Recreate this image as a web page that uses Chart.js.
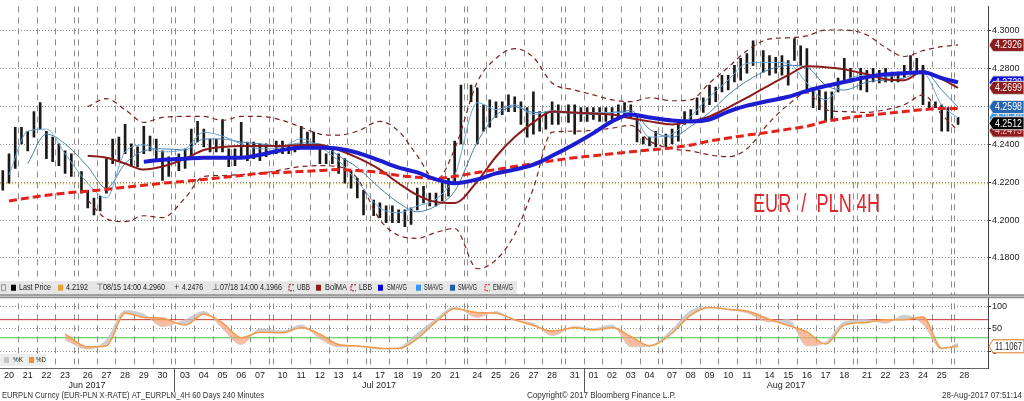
<!DOCTYPE html>
<html>
<head>
<meta charset="utf-8">
<script src="https://cdn.jsdelivr.net/npm/chart.js@4/dist/chart.umd.min.js"></script>
<style>
  html, body { margin: 0; padding: 0; background: #fff; }
  #wrap { width: 1024px; height: 401px; }
</style>
</head>
<body>
<div id="wrap"><canvas id="chart" width="1024" height="401"></canvas></div>
<script>
// trading days on the axis
const dates = [
  '2017-06-20','2017-06-21','2017-06-22','2017-06-23','2017-06-26','2017-06-27','2017-06-28','2017-06-29','2017-06-30',
  '2017-07-03','2017-07-04','2017-07-05','2017-07-06','2017-07-07','2017-07-10','2017-07-11','2017-07-12','2017-07-13',
  '2017-07-14','2017-07-17','2017-07-18','2017-07-19','2017-07-20','2017-07-21','2017-07-24','2017-07-25','2017-07-26',
  '2017-07-27','2017-07-28','2017-07-31','2017-08-01','2017-08-02','2017-08-03','2017-08-04','2017-08-07','2017-08-08',
  '2017-08-09','2017-08-10','2017-08-11','2017-08-14','2017-08-15','2017-08-16','2017-08-17','2017-08-18','2017-08-21',
  '2017-08-22','2017-08-23','2017-08-24','2017-08-25','2017-08-28'
]
const monthNames = ['Jan','Feb','Mar','Apr','May','Jun','Jul','Aug','Sep','Oct','Nov','Dec']

// price bars, three per day (last day only one)
const barHigh = [
  4.2262,4.2351,4.2491, 4.2491,4.2470,4.2574, 4.2621,4.2470,4.2439, 4.2403,4.2366,4.2351,
  4.2257,4.2158,4.2117, 4.2127,4.2325,4.2429, 4.2439,4.2506,4.2403, 4.2387,4.2496,4.2444,
  4.2429,4.2366,4.2335, 4.2351,4.2377,4.2481, 4.2522,4.2481,4.2429, 4.2429,4.2532,4.2377,
  4.2377,4.2517,4.2413, 4.2413,4.2403,4.2403, 4.2418,4.2418,4.2392, 4.2392,4.2496,4.2465,
  4.2465,4.2387,4.2351, 4.2387,4.2351,4.2325, 4.2262,4.2221,4.2158, 4.2106,4.2091,4.2075,
  4.2075,4.2054,4.2054, 4.2065,4.2169,4.2179, 4.2143,4.2143,4.2195, 4.2221,4.2418,4.2714,
  4.2714,4.2699,4.2610, 4.2636,4.2626,4.2626, 4.2662,4.2652,4.2626, 4.2595,4.2678,4.2574,
  4.2574,4.2626,4.2610, 4.2610,4.2610,4.2595, 4.2595,4.2595,4.2595, 4.2595,4.2595,4.2610,
  4.2621,4.2610,4.2543, 4.2439,4.2439,4.2470, 4.2455,4.2481,4.2522, 4.2574,4.2584,4.2647,
  4.2647,4.2714,4.2704, 4.2766,4.2766,4.2818, 4.2855,4.2881,4.2948, 4.2896,4.2870,4.2860,
  4.2870,4.2844,4.2960, 4.2922,4.2907,4.2699, 4.2688,4.2678,4.2678, 4.2751,4.2855,4.2803,
  4.2803,4.2792,4.2803, 4.2792,4.2803,4.2782, 4.2782,4.2818,4.2870, 4.2855,4.2818,4.2626,
  4.2626,4.2610,4.2595, 4.2543
]
const barLow = [
  4.2158,4.2195,4.2273, 4.2403,4.2366,4.2439, 4.2481,4.2325,4.2309, 4.2288,4.2247,4.2231,
  4.2143,4.2065,4.2028, 4.2049,4.2143,4.2299, 4.2309,4.2351,4.2283, 4.2283,4.2351,4.2366,
  4.2325,4.2210,4.2231, 4.2262,4.2273,4.2325, 4.2413,4.2387,4.2361, 4.2361,4.2361,4.2283,
  4.2288,4.2335,4.2314, 4.2325,4.2314,4.2335, 4.2351,4.2351,4.2351, 4.2361,4.2387,4.2387,
  4.2387,4.2299,4.2299, 4.2299,4.2247,4.2195, 4.2169,4.2117,4.2028, 4.2023,4.2013,4.1987,
  4.1987,4.1987,4.1966, 4.1977,4.2054,4.2091, 4.2075,4.2075,4.2101, 4.2127,4.2195,4.2403,
  4.2626,4.2403,4.2470, 4.2491,4.2543,4.2558, 4.2574,4.2574,4.2506, 4.2439,4.2455,4.2470,
  4.2481,4.2506,4.2506, 4.2517,4.2455,4.2522, 4.2522,4.2532,4.2522, 4.2522,4.2532,4.2543,
  4.2548,4.2543,4.2413, 4.2403,4.2392,4.2387, 4.2387,4.2403,4.2418, 4.2506,4.2517,4.2558,
  4.2569,4.2610,4.2626, 4.2678,4.2688,4.2730, 4.2740,4.2777,4.2818, 4.2782,4.2766,4.2777,
  4.2766,4.2714,4.2844, 4.2818,4.2678,4.2595, 4.2584,4.2522,4.2532, 4.2678,4.2740,4.2730,
  4.2688,4.2678,4.2730, 4.2725,4.2730,4.2730, 4.2730,4.2756,4.2792, 4.2782,4.2610,4.2595,
  4.2595,4.2470,4.2470, 4.2506
]
const lastClose = 4.2512
const refLevel = 4.2192

// indicator lines, one value per day
const emaLine = [
  4.2101,4.2117,4.2132,4.2143,4.2153,4.2163,4.2174,4.2184,4.2195,4.2205,
  4.2215,4.2226,4.2236,4.2247,4.2252,4.2257,4.2262,4.2267,4.2262,4.2252,
  4.2236,4.2226,4.2221,4.2231,4.2252,4.2267,4.2283,4.2299,4.2314,4.2330,
  4.2340,4.2351,4.2361,4.2371,4.2382,4.2397,4.2418,4.2434,4.2449,4.2465,
  4.2481,4.2496,4.2522,4.2538,4.2553,4.2564,4.2574,4.2584,4.2590,4.2590
]
const smaLong = [
  null,null,null,null,null,null,null,4.2309,4.2319,4.2325,
  4.2330,4.2330,4.2330,4.2345,4.2371,4.2382,4.2382,4.2377,4.2356,4.2314,
  4.2278,4.2252,4.2215,4.2195,4.2215,4.2247,4.2267,4.2293,4.2340,4.2403,
  4.2460,4.2522,4.2558,4.2543,4.2527,4.2522,4.2532,4.2574,4.2605,4.2631,
  4.2652,4.2683,4.2709,4.2730,4.2756,4.2771,4.2777,4.2782,4.2751,4.2728
]
const bolMA = [
  null,null,null,null,4.2340,4.2330,4.2299,4.2267,4.2283,4.2325,
  4.2371,4.2387,4.2392,4.2392,4.2392,4.2397,4.2397,4.2371,4.2330,4.2267,
  4.2195,4.2132,4.2096,4.2091,4.2205,4.2335,4.2439,4.2517,4.2574,4.2569,
  4.2564,4.2558,4.2538,4.2522,4.2506,4.2522,4.2548,4.2595,4.2647,4.2714,
  4.2766,4.2813,4.2808,4.2797,4.2771,4.2745,4.2740,4.2787,4.2745,4.2699
]
const upperBand = [
  null,null,null,null,4.2600,4.2642,4.2584,4.2517,4.2543,4.2548,
  4.2548,4.2527,4.2548,4.2548,4.2527,4.2491,4.2455,4.2449,4.2470,4.2522,
  4.2470,4.2340,4.2210,4.2377,4.2730,4.2855,4.2907,4.2860,4.2725,4.2688,
  4.2662,4.2636,4.2626,4.2647,4.2631,4.2636,4.2725,4.2808,4.2896,4.2958,
  4.2964,4.2974,4.3005,4.3005,4.2979,4.2912,4.2865,4.2896,4.2917,4.2926
]
const lowerBand = [
  null,null,null,null,4.2106,4.2007,4.1992,4.2023,4.2013,4.2117,
  4.2231,4.2236,4.2241,4.2247,4.2267,4.2283,4.2288,4.2283,4.2221,4.2002,
  4.1919,4.1904,4.1935,4.1956,4.1743,4.1790,4.1925,4.2169,4.2465,4.2470,
  4.2475,4.2486,4.2501,4.2418,4.2377,4.2366,4.2345,4.2335,4.2377,4.2517,
  4.2610,4.2673,4.2584,4.2574,4.2569,4.2584,4.2610,4.2662,4.2558,4.2473
]
const smaFast = [
  4.2240,4.2470,4.2481,4.2351,4.2195,4.2117,4.2361,4.2397,4.2361,4.2377,
  4.2465,4.2444,4.2403,4.2377,4.2387,4.2429,4.2387,4.2314,4.2205,4.2065,
  4.2039,4.2075,4.2111,4.2236,4.2621,4.2584,4.2610,4.2558,4.2579,4.2569,
  4.2569,4.2569,4.2569,4.2439,4.2455,4.2548,4.2652,4.2740,4.2829,4.2834,
  4.2829,4.2725,4.2636,4.2735,4.2766,4.2756,4.2777,4.2777,4.2610,4.2540
]
const smaSlow = [
  null,4.2299,4.2455,4.2403,4.2283,4.2169,4.2299,4.2366,4.2377,4.2371,
  4.2429,4.2429,4.2413,4.2403,4.2392,4.2408,4.2403,4.2340,4.2278,4.2169,
  4.2091,4.2044,4.2075,4.2153,4.2413,4.2553,4.2600,4.2569,4.2569,4.2564,
  4.2558,4.2569,4.2579,4.2481,4.2439,4.2496,4.2569,4.2662,4.2735,4.2797,
  4.2818,4.2808,4.2714,4.2688,4.2730,4.2740,4.2751,4.2792,4.2688,4.2598
]

// stochastic panel
const stochK = [
  null,null,null,25,5,25,90,82,55,70,
  88,50,15,50,45,58,28,10,12,5,
  8,40,72,98,75,88,68,62,35,55,
  50,58,10,12,48,90,98,92,85,65,
  70,12,20,65,70,62,80,60,5,18
]
const stochD = [
  null,null,null,38,10,12,84,75,73,58,
  82,63,30,42,41,52,38,15,12,7,
  6,28,65,94,86,84,70,57,45,52,
  47,52,33,12,40,80,97,93,89,71,
  57,43,16,58,64,70,70,76,7,11.1067
]
const stochHigh = 70
const stochLow = 30

const priceTicks = [4.18, 4.20, 4.22, 4.24, 4.26, 4.28, 4.30]
const stochTicks = [0, 50, 100]

// ---- time axis: 6 units per day, small gap over weekends
const GAP = 1.25
const X_MIN = 0.11, X_MAX = 317.11
const dayStart = []
let acc = 0
dates.forEach((d, i) => {
  if (i > 0) {
    const diff = (Date.parse(d) - Date.parse(dates[i - 1])) / 864e5
    acc += 6 + (diff > 1 ? GAP : 0)
  }
  dayStart.push(acc)
})
const dayLabels = dates.map(d => d.slice(8))
const dayCenters = dayStart.map(s => s + 3)
const barX = k => dayStart[Math.floor(k / 3)] + 1 + 2 * (k % 3)
const lastBarX = barX(barHigh.length - 1)
const lineX = i => (i === dates.length - 1 ? lastBarX : dayStart[i] + 3)

const gridTicks = []
dayStart.forEach((s, i) => {
  gridTicks.push(s)
  if (i < dates.length - 1 && dayStart[i + 1] - s > 6) gridTicks.push(s + 6)
})

const monthBounds = []
const monthLabels = [monthNames[+dates[0].slice(5, 7) - 1] + ' ' + dates[0].slice(0, 4)]
dates.forEach((d, i) => {
  if (i > 0 && d.slice(5, 7) !== dates[i - 1].slice(5, 7)) {
    monthBounds.push((dayStart[i - 1] + 6 + dayStart[i]) / 2)
    monthLabels.push(monthNames[+d.slice(5, 7) - 1] + ' ' + d.slice(0, 4))
  }
})
const edges = [X_MIN, ...monthBounds, X_MAX]
const monthCenters = monthLabels.map((m, i) => (edges[i] + edges[i + 1]) / 2)

const toPoints = arr => arr.map((v, i) => (v === null ? null : {x: lineX(i), y: v})).filter(p => p)
const bars = barHigh.map((h, k) => ({x: barX(k), y: [barLow[k], h]}))
const flat = v => [{x: X_MIN, y: v}, {x: X_MAX, y: v}]

const FONT = '"Liberation Sans", Arial, sans-serif'

function lineSet(data, color, width, dash, yAxis) {
  return {
    type: 'line', data, borderColor: color, borderWidth: width, borderDash: dash || [],
    pointRadius: 0, fill: false, cubicInterpolationMode: 'monotone',
    xAxisID: 'x', yAxisID: yAxis || 'y'
  }
}

function drawTag(ctx, y, text, bg, fg, border) {
  const x = 989, h = 13, w = 1024 - x
  ctx.beginPath()
  ctx.moveTo(x, y)
  ctx.lineTo(x + 4, y - h / 2)
  ctx.lineTo(x + w, y - h / 2)
  ctx.lineTo(x + w, y + h / 2)
  ctx.lineTo(x + 4, y + h / 2)
  ctx.closePath()
  ctx.fillStyle = bg
  ctx.fill()
  ctx.strokeStyle = border
  ctx.lineWidth = 1
  ctx.stroke()
  ctx.fillStyle = fg
  ctx.font = '10px ' + FONT
  ctx.textBaseline = 'middle'
  ctx.textAlign = 'left'
  ctx.fillText(text, x + 6, y + 0.5, w - 8)
}

const decor = {
  id: 'decor',
  afterDraw(chart) {
    const {ctx, scales} = chart
    const py = scales.y, sy = scales.ys
    ctx.save()

    // legend strip of the price panel
    const ly = py.bottom - 17
    ctx.fillStyle = '#e6e6e6'
    ctx.fillRect(0, ly, 517, 13)
    ctx.font = '9px ' + FONT
    ctx.textBaseline = 'middle'
    ctx.textAlign = 'left'
    const my = ly + 6.5
    ctx.strokeStyle = '#999'
    ctx.lineWidth = 1
    ctx.strokeRect(1.5, my - 3, 4, 6)
    const items = [
      ['box', '#000', 11, 'Last Price', 19, 32],
      ['box', '#f0a030', 58, refLevel.toFixed(4), 66, 22],
      ['txt', '\u22A4', 96, '08/15 14:00 4.2960', 103, 62],
      ['txt', '+', 174, '4.2476', 182, 21],
      ['txt', '\u22A5', 212, '07/18 14:00 4.1966', 220, 62],
      ['dash', '#8b1c1c', 289, 'UBB', 297, 13],
      ['box', '#8b1c1c', 316, 'BolMA', 325, 22],
      ['dash', '#8b1c1c', 351, 'LBB', 359, 13],
      ['box', '#0000e0', 378, 'SMAVG', 387, 20],
      ['box', '#3399ff', 416, 'SMAVG', 424, 19],
      ['box', '#1f5fa8', 450, 'SMAVG', 458, 19],
      ['dash', '#e0201a', 485, 'EMAVG', 493, 20]
    ]
    items.forEach(([kind, c, ix, label, tx, tw]) => {
      if (kind === 'box') {
        ctx.fillStyle = c
        ctx.fillRect(ix, my - 3, 5, 6)
      } else if (kind === 'dash') {
        ctx.strokeStyle = c
        ctx.setLineDash([2, 1])
        ctx.beginPath()
        ctx.moveTo(ix + 5, my - 3); ctx.lineTo(ix, my - 3); ctx.lineTo(ix, my + 3); ctx.lineTo(ix + 5, my + 3)
        ctx.stroke()
        ctx.setLineDash([])
      } else {
        ctx.fillStyle = '#333'
        ctx.fillText(c, ix, my)
      }
      ctx.fillStyle = '#222'
      ctx.fillText(label, tx, my, tw)
    })

    // separator between the two panels
    ctx.fillStyle = '#8c8c8c'
    ctx.fillRect(0, sy.top - 4, 1024, 4)
    ctx.fillStyle = '#d4d4d4'
    ctx.fillRect(0, sy.top - 2.5, 1024, 1)

    // stochastic legend
    ctx.fillStyle = '#ededed'
    ctx.fillRect(0, sy.bottom - 14, 46, 12)
    ctx.fillStyle = '#c4c4c4'
    ctx.fillRect(4, sy.bottom - 11, 5, 6)
    ctx.fillStyle = '#f0902a'
    ctx.fillRect(29, sy.bottom - 11, 5, 6)
    ctx.fillStyle = '#222'
    ctx.font = '8px ' + FONT
    ctx.fillText('%K', 13, sy.bottom - 8, 10)
    ctx.fillText('%D', 36, sy.bottom - 8, 10)

    // month separators under the axis
    ctx.strokeStyle = '#555'
    ctx.lineWidth = 1
    monthBounds.forEach(b => {
      const px = Math.round(scales.x.getPixelForValue(b)) + 0.5
      ctx.beginPath()
      ctx.moveTo(px, sy.bottom)
      ctx.lineTo(px, sy.bottom + 24)
      ctx.stroke()
    })

    // value tags on the right axis
    const last = a => a[a.length - 1]
    const tags = [
      [last(smaLong), '#1010d8', '#fff'],
      [last(bolMA), '#8e1c1c', '#fff'],
      [last(upperBand), '#8e1c1c', '#fff'],
      [last(smaFast), '#3d9be9', '#fff'],
      [last(smaSlow), '#2467b0', '#fff'],
      [last(lowerBand), '#8e1c1c', '#ffb4b4'],
      [lastClose, '#000', '#fff']
    ]
    tags.forEach(([v, bg, fg]) => drawTag(ctx, py.getPixelForValue(v), v.toFixed(4), bg, fg, '#ddd'))
    const dv = last(stochD)
    drawTag(ctx, sy.getPixelForValue(dv), dv.toFixed(4), '#fff', '#222', '#e07b20')

    // chart caption
    ctx.fillStyle = '#e3262b'
    ctx.font = '26px ' + FONT
    ctx.textBaseline = 'alphabetic'
    ctx.fillText('EUR  /  PLN 4H', 753, 212, 127)

    // footer
    ctx.fillStyle = '#333'
    ctx.font = '9px ' + FONT
    ctx.textBaseline = 'middle'
    ctx.fillText('EURPLN Curncy (EUR-PLN X-RATE) AT_EURPLN_4H 60 Days 240 Minutes', 2, 396, 262)
    ctx.fillText('Copyright\u00A9 2017 Bloomberg Finance L.P.', 527, 396, 149)
    ctx.textAlign = 'right'
    ctx.fillText('28-Aug-2017 07:51:14', 1022, 396, 80)
    ctx.restore()
  }
}

const tickFont = {size: 9, family: FONT}

new Chart(document.getElementById('chart'), {
  type: 'line',
  data: {
    datasets: [
      lineSet(toPoints(smaLong), '#1c1cd0', 4),
      lineSet(toPoints(emaLine), '#e4221b', 3, [8, 4]),
      lineSet(toPoints(bolMA), '#8b1a1a', 2),
      lineSet(toPoints(smaFast), '#6aa6d6', 1),
      lineSet(toPoints(smaSlow), '#4a7fb0', 1),
      lineSet(toPoints(upperBand), '#7a2222', 1.2, [5, 4]),
      lineSet(toPoints(lowerBand), '#7a2222', 1.2, [5, 4]),
      {
        type: 'bar', data: bars, backgroundColor: '#1a1a1a', barThickness: 2,
        grouped: false, xAxisID: 'x', yAxisID: 'y'
      },
      lineSet(flat(refLevel), '#c8b000', 1, [1, 2]),
      lineSet(toPoints(stochD), '#f39a4a', 1.5, null, 'ys'),
      Object.assign(lineSet(toPoints(stochK), '#c8c8c8', 0.8, null, 'ys'), {
        fill: {target: 9, above: 'rgba(190,190,190,0.75)', below: 'rgba(248,160,120,0.7)'}
      }),
      lineSet(flat(stochHigh), '#c03a30', 1, null, 'ys'),
      lineSet(flat(stochLow), '#48c048', 1, null, 'ys')
    ]
  },
  options: {
    responsive: false,
    animation: false,
    layout: {padding: {left: 0, right: 0, top: 0, bottom: 10}},
    plugins: {legend: {display: false}, tooltip: {enabled: false}},
    scales: {
      x: {
        type: 'linear', min: X_MIN, max: X_MAX, offset: false, weight: 0,
        afterBuildTicks: s => { s.ticks = dayCenters.map(v => ({value: v})) },
        afterFit: s => { s.height = 12 },
        grid: {display: false, drawTicks: false},
        border: {display: true, color: '#666'},
        ticks: {autoSkip: false, maxRotation: 0, padding: 2, color: '#222', font: tickFont,
          callback: (v, i) => dayLabels[i]}
      },
      xg: {
        type: 'linear', min: X_MIN, max: X_MAX, offset: false, weight: 1,
        afterBuildTicks: s => { s.ticks = gridTicks.map(v => ({value: v})) },
        afterFit: s => { s.height = 0 },
        grid: {color: '#8c8c8c', lineWidth: 1, drawTicks: false},
        border: {display: false, dash: [6, 5]},
        ticks: {display: false}
      },
      xm: {
        type: 'linear', min: X_MIN, max: X_MAX, offset: false, weight: 2,
        afterBuildTicks: s => { s.ticks = monthCenters.map(v => ({value: v})) },
        afterFit: s => { s.height = 11 },
        grid: {display: false, drawTicks: false},
        border: {display: false},
        ticks: {autoSkip: false, maxRotation: 0, padding: 0, color: '#222', font: tickFont,
          callback: (v, i) => monthLabels[i]}
      },
      y: {
        type: 'linear', position: 'right', stack: 'panels', stackWeight: 297,
        min: 4.1587, max: 4.31299,
        afterBuildTicks: s => { s.ticks = priceTicks.map(v => ({value: v})) },
        afterFit: s => { s.width = 36 },
        grid: {color: '#8a8a8a', drawTicks: true, tickLength: 3, tickColor: '#333'},
        border: {display: true, color: '#444', dash: [1, 2]},
        ticks: {padding: 1, color: '#222', font: tickFont, callback: v => v.toFixed(4)}
      },
      ys: {
        type: 'linear', position: 'right', stack: 'panels', stackWeight: 71,
        min: -36.9, max: 117.4,
        afterBuildTicks: s => { s.ticks = stochTicks.map(v => ({value: v})) },
        afterFit: s => { s.width = 36 },
        grid: {color: '#8a8a8a', drawTicks: true, tickLength: 3, tickColor: '#333'},
        border: {display: true, color: '#444', dash: [1, 2]},
        ticks: {padding: 1, color: '#222', font: tickFont, callback: v => String(v)}
      }
    }
  },
  plugins: [decor]
})
</script>
</body>
</html>
